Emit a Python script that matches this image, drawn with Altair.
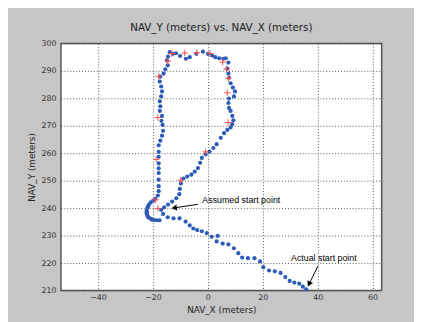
import math
import altair as alt
import pandas as pd

# ---- data ----
path_x = [35.8, 34.6, 33.3, 31.5, 29.8, 28.2, 26.5, 24.4, 22.3, 20.2, 19.0, 17.0, 14.6, 12.5, 11.1, 9.5, 7.5, 5.4,
          3.6, 3.2, 1.4, -0.4, -2.2, -3.9, -5.3, -6.6, -8.1, -10.3, -12.5, -14.6, -16.3,
          -17.6, -18.6, -19.6, -20.3, -20.6, -21.4, -21.8, -22.0, -22.3, -22.2, -22.3, -22.0, -21.8, -21.5, -20.8, -19.9, -19.1,
          -18.2, -17.9, -17.9, -17.9, -17.9, -17.9, -17.9, -17.9, -17.9, -17.9, -17.3, -16.7, -16.3, -16.5, -16.9, -16.7,
          -17.5, -17.3, -17.5, -17.0, -16.7, -17.0, -17.5, -17.3, -16.1, -15.5, -14.6, -14.9, -14.5, -13.9,
          -12.75, -11.6, -10.1, -8.0, -6.6, -4.2, -1.8, 0.0, 1.5, 2.7, 4.1, 5.6, 6.5, 7.5,
          7.1, 7.5, 7.7, 8.3, 9.1, 9.9, 9.5, 7.7, 7.5, 7.7, 8.3, 8.9, 9.3, 8.9, 8.3, 7.1, 5.9, 4.7,
          3.2, 2.0, 0.6, -0.8, -2.2, -2.8, -3.6, -4.8, -6.0, -7.5, -8.9, -9.8, -10.2, -10.4, -11.5, -13.0, -14.5, -15.9, -17.0]
path_y = [210.4, 211.4, 212.5, 212.9, 213.5, 214.9, 216.4, 217.0, 217.3, 218.5, 220.6, 221.8, 221.8, 222.0, 223.6, 225.4, 226.8, 227.1,
          229.9, 227.9, 229.6, 230.9, 231.6, 232.0, 232.6, 233.7, 235.1, 236.3, 236.3, 236.7, 237.9,
          235.6, 235.6, 235.7, 235.8, 236.0, 236.5, 236.8, 237.2, 238.0, 238.5, 239.0, 240.1, 240.6, 241.2, 242.1, 242.8, 243.4,
          244.6, 246.2, 248.0, 250.4, 252.8, 254.5, 256.3, 258.7, 260.5, 262.9, 264.6, 266.4, 268.2, 270.3, 271.8, 273.6,
          275.4, 277.1, 278.9, 280.7, 282.5, 284.3, 286.1, 287.9, 289.0, 290.6, 292.0, 293.8, 295.2, 296.8,
          296.2, 296.4, 295.4, 294.4, 295.0, 296.2, 297.0, 296.2, 295.6, 295.0, 294.6, 294.4, 294.6, 293.0,
          290.8, 289.0, 287.5, 285.5, 283.9, 282.5, 280.7, 279.9, 278.3, 276.5, 275.4, 273.6, 272.0, 270.6, 269.4, 268.5, 267.3, 265.6,
          263.3, 261.9, 260.6, 259.6, 258.3, 256.5, 254.6, 253.3, 252.2, 251.5, 250.8, 249.0, 247.0, 245.1, 243.6, 242.4, 241.3, 240.3, 239.4]

mark_x = [-13.1, -8.4, -4.0, 0.8, -14.6, 5.4, 6.8, -17.9, 7.5, 7.1, -18.2, 7.4, -0.8, -18.8, -9.9, -19.1, -18.2]
mark_y = [296.3, 296.5, 296.6, 296.3, 293.5, 293.2, 290.6, 288.0, 287.3, 282.0, 273.0, 271.2, 260.5, 257.8, 250.2, 243.0, 239.9]

note_text = ["Assumed start point", "Actual start point"]
note_x = [-2.0, 30.3]
note_y = [242.9, 221.7]
tail_x = [-3.6, 40.1]
tail_y = [241.4, 218.9]
tip_x = [-13.5, 36.3]
tip_y = [239.9, 211.2]

x_ticks = [-40, -20, 0, 20, 40, 60]
y_ticks = [210, 220, 230, 240, 250, 260, 270, 280, 290, 300]

# ---- layout ----
W, H = 327, 252
XD = [-53.5, 63.3]
YD = [210, 300]
kx = W / (XD[1] - XD[0])
ky = H / (YD[1] - YD[0])

path_df = pd.DataFrame({"x": path_x, "y": path_y})
mark_df = pd.DataFrame({"x": mark_x, "y": mark_y})
note_df = pd.DataFrame({"t": note_text, "x": note_x, "y": note_y})

rows = []
back = 3.5
for tx, ty, hx, hy in zip(tail_x, tail_y, tip_x, tip_y):
    dx = (hx - tx) * kx
    dys = -(hy - ty) * ky
    L = math.hypot(dx, dys)
    ux, uy = dx / L, dys / L
    ang = math.degrees(math.atan2(dx, -dys)) % 360
    cx = hx - back * ux / kx
    cy = hy + back * uy / ky
    rows.append({"x": tx, "y": ty, "x2": cx, "y2": cy, "ang": ang})
arrow_df = pd.DataFrame(rows)

xs = alt.Scale(domain=XD, nice=False, zero=False)
ys = alt.Scale(domain=YD, nice=False, zero=False)

xax = alt.Axis(values=x_ticks, title="NAV_X (meters)", grid=True, labelPadding=3, titlePadding=4,
               labelOverlap=False)
yax = alt.Axis(values=y_ticks, title="NAV_Y (meters)", grid=True, labelPadding=5, titlePadding=5,
               labelOverlap=False)


def X(f):
    return alt.X(f, type="quantitative", scale=xs, axis=xax)


def Y(f):
    return alt.Y(f, type="quantitative", scale=ys, axis=yax)


blue = alt.Chart(path_df).mark_circle(size=18, color="#2c5ab8", opacity=1).encode(x=X("x"), y=Y("y"))
red = alt.Chart(mark_df).mark_point(shape="M-1,0L1,0M0,-1L0,1", size=42, strokeWidth=1,
                                     color="#ff4a4a", filled=False, opacity=1).encode(x=X("x"), y=Y("y"))
rule = alt.Chart(arrow_df).mark_rule(color="black", strokeWidth=1).encode(
    x=X("x"), y=Y("y"), x2="x2:Q", y2="y2:Q")
head = alt.Chart(arrow_df).mark_point(shape="triangle-up", size=40, filled=True, color="black", opacity=1).encode(
    x=X("x2"), y=Y("y2"), angle=alt.Angle("ang:Q", scale=None))
notes = alt.Chart(note_df).mark_text(align="left", baseline="middle", font="Liberation Sans",
                                     fontSize=9, color="black").encode(x=X("x"), y=Y("y"), text="t:N")

chart = alt.layer(blue, red, rule, head, notes).properties(
    width=W, height=H,
    autosize=alt.AutoSizeParams(type="none"),
    padding={"left": 54, "top": 33, "right": 33, "bottom": 29},
    background="#c6c6c6",
    title=alt.TitleParams("NAV_Y (meters) vs. NAV_X (meters)", font="DejaVu Sans", fontSize=10.5,
                          fontWeight="normal", color="#1a1a1a", anchor="middle", offset=6),
).configure_view(
    fill="white", stroke="#555555", strokeWidth=1.5
).configure_axis(
    domain=False, ticks=False, gridColor="#444444", gridDash=[1, 2], gridWidth=1, gridOpacity=0.9,
    labelFont="DejaVu Sans", labelFontSize=8, labelColor="#333333", labelOverlap=False,
    titleFont="DejaVu Sans", titleFontSize=9, titleFontWeight="normal", titleColor="#222222",
)

chart.save("out.html", embed_options={"renderer": "svg", "actions": False})
